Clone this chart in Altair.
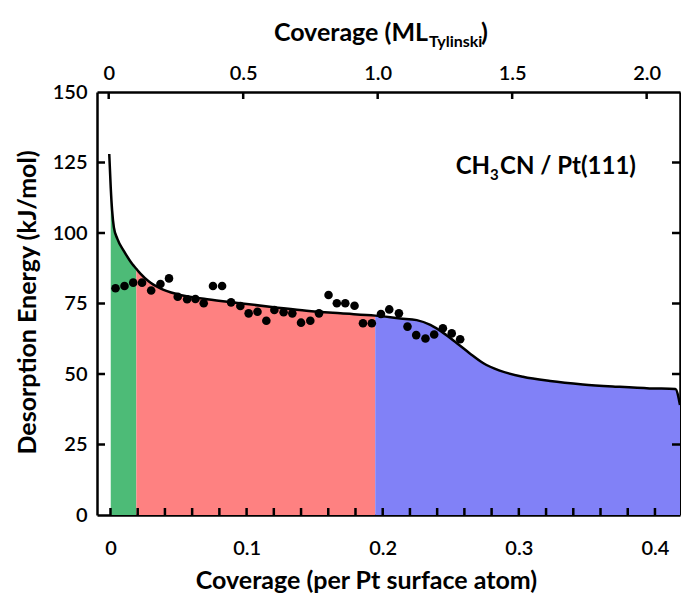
import altair as alt
import pandas as pd

# Desorption-energy curve: coverage (per Pt surface atom) vs energy (kJ/mol)
curve_x = [-0.0009, 0.0002, 0.0012, 0.0025, 0.005, 0.01, 0.016, 0.019, 0.022, 0.028,
           0.037, 0.049, 0.071, 0.095, 0.12, 0.144, 0.169, 0.1945, 0.213, 0.225,
           0.235, 0.245, 0.2545, 0.264, 0.274, 0.286, 0.303, 0.323, 0.347, 0.372,
           0.396, 0.415, 0.4184]
curve_e = [128, 116, 108, 102, 98, 93.5, 89, 87.3, 85.6, 82.9,
           80.3, 78.3, 76.5, 75.1, 73.7, 72.4, 71.5, 70.7, 69.7, 69.1,
           67.4, 64.4, 60.9, 57.3, 53.8, 51.2, 49.0, 47.5, 46.3, 45.5,
           44.9, 44.7, 39]

# Measured desorption energies
dot_x = [0.0037, 0.0103, 0.0167, 0.0232, 0.0299, 0.0367, 0.043, 0.0494, 0.0563, 0.0624,
         0.0685, 0.0753, 0.082, 0.0886, 0.0954, 0.1015, 0.108, 0.1145, 0.1204, 0.1272,
         0.1336, 0.14, 0.1468, 0.1532, 0.1602, 0.1663, 0.1725, 0.1793, 0.1855, 0.192,
         0.1987, 0.2048, 0.2119, 0.2182, 0.2246, 0.2314, 0.2378, 0.2442, 0.2507, 0.2569]
dot_e = [80.4, 81.2, 82.4, 82.4, 79.6, 81.9, 83.9, 77.4, 76.5, 76.6,
         75.1, 81.2, 81.2, 75.4, 74.1, 71.5, 72.1, 68.9, 72.7, 71.9,
         71.5, 68.2, 68.9, 71.5, 78.0, 75.1, 75.1, 74.2, 68.0, 68.0,
         71.3, 72.9, 71.5, 66.8, 63.8, 62.6, 64.0, 66.2, 64.4, 62.3]

# Coverage regions under the curve
region_edges = [0.0, 0.019, 0.1945, 0.4184]
region_names = ["a", "b", "c"]
region_colors = ["#4dbb77", "#fe8181", "#8181f7"]

bottom_ticks = [0.0, 0.02, 0.04, 0.06, 0.08, 0.10, 0.12, 0.14, 0.16, 0.18, 0.20,
                0.22, 0.24, 0.26, 0.28, 0.30, 0.32, 0.34, 0.36, 0.38, 0.40]
bottom_labels = [0.0, 0.1, 0.2, 0.3, 0.4]
top_ticks = [0.0, 0.5, 1.0, 1.5, 2.0]
energy_ticks = [0, 25, 50, 75, 100, 125, 150]
inner_energy_ticks = [25, 50, 75, 100, 125]

cov_domain = [-0.0099, 0.4184]
e_domain = [0, 150]
ml_per_cov = 1 / 0.1976
ml_shift = 0.0013
ml_domain = [(v + ml_shift) * ml_per_cov for v in cov_domain]

W, H = 583, 423
FONT = "Lato"
INK = "#000000"
TITLE_SIZE = 25
LABEL_SIZE = 20
TICK_W = 2.5

# tick lengths expressed in axis units
tick_e = 7 / H * (e_domain[1] - e_domain[0])
tick_cov = 8 / W * (cov_domain[1] - cov_domain[0])

curve = pd.DataFrame({"cov": curve_x, "e": curve_e})
parts = []
for name, lo, hi in zip(region_names, region_edges[:-1], region_edges[1:]):
    seg = curve[(curve["cov"] >= lo) & (curve["cov"] <= hi)].copy()
    seg["region"] = name
    parts.append(seg)
areas_df = pd.concat(parts, ignore_index=True)
dots = pd.DataFrame({"cov": dot_x, "e": dot_e})

# tick segments: each row holds both ends of one inward tick
bottom_df = pd.DataFrame({"cov": bottom_ticks, "e": e_domain[0], "e2": e_domain[0] + tick_e})
left_df = pd.DataFrame({"e": inner_energy_ticks, "cov": cov_domain[0],
                        "cov2": cov_domain[0] + tick_cov})
right_df = pd.DataFrame({"e": inner_energy_ticks, "cov": cov_domain[1],
                         "cov2": cov_domain[1] - tick_cov})
top_df = pd.DataFrame({"ml": top_ticks, "e": e_domain[1], "e2": e_domain[1] - tick_e})

x_scale = alt.Scale(domain=cov_domain, nice=False, zero=False)
y_scale = alt.Scale(domain=e_domain, nice=False)
ml_scale = alt.Scale(domain=ml_domain, nice=False, zero=False)

num_expr = "datum.value == 0 ? '0' : format(datum.value, '.1f')"

x_axis = alt.Axis(
    orient="bottom", values=bottom_labels, labelExpr=num_expr, ticks=False, tickSize=0,
    grid=False, labelFontSize=LABEL_SIZE, labelFont=FONT, labelFontWeight=600,
    labelColor=INK, labelBaseline="middle", labelPadding=33, domainColor=INK,
    domainWidth=2.5,
    title="Coverage (per Pt surface atom)", titleFont=FONT, titleFontSize=TITLE_SIZE,
    titleFontWeight="bold", titleColor=INK, titleX=269, titleY=73,
    titleBaseline="alphabetic", titleAlign="center",
)
y_axis = alt.Axis(
    orient="left", values=energy_ticks, format="d", ticks=False, tickSize=0, grid=False,
    labelFontSize=LABEL_SIZE, labelFont=FONT, labelFontWeight=600, labelColor=INK,
    labelPadding=10, domainColor=INK, domainWidth=2.5,
    title="Desorption Energy (kJ/mol)", titleFont=FONT, titleFontSize=TITLE_SIZE,
    titleFontWeight="bold", titleColor=INK, titleX=-70, titleY=210,
    titleAngle=270, titleBaseline="middle", titleAlign="center",
)

areas = alt.Chart(areas_df).mark_area(interpolate="monotone").encode(
    x=alt.X("cov:Q", scale=x_scale, axis=x_axis),
    y=alt.Y("e:Q", scale=y_scale, axis=y_axis, stack=None),
    color=alt.Color("region:N", scale=alt.Scale(domain=region_names, range=region_colors),
                    legend=None),
    detail="region:N",
)

line = alt.Chart(curve).mark_line(interpolate="monotone", color=INK, strokeWidth=2.5).encode(
    x=alt.X("cov:Q", scale=x_scale),
    y=alt.Y("e:Q", scale=y_scale),
)

points = alt.Chart(dots).mark_circle(size=74, color="#000000", opacity=1).encode(
    x=alt.X("cov:Q", scale=x_scale),
    y=alt.Y("e:Q", scale=y_scale),
)

bottom_tick_marks = alt.Chart(bottom_df).mark_rule(color=INK, strokeWidth=TICK_W).encode(
    x=alt.X("cov:Q", scale=x_scale),
    y=alt.Y("e:Q", scale=y_scale),
    y2="e2:Q",
)
left_tick_marks = alt.Chart(left_df).mark_rule(color=INK, strokeWidth=TICK_W).encode(
    y=alt.Y("e:Q", scale=y_scale),
    x=alt.X("cov:Q", scale=x_scale),
    x2="cov2:Q",
)
right_tick_marks = alt.Chart(right_df).mark_rule(color=INK, strokeWidth=TICK_W).encode(
    y=alt.Y("e:Q", scale=y_scale),
    x=alt.X("cov:Q", scale=x_scale),
    x2="cov2:Q",
)


def label(txt, x, y, size, align="left"):
    return alt.Chart(pd.DataFrame({"t": [txt]})).mark_text(
        font=FONT, fontSize=size, fontWeight="bold", color=INK, align=align,
        baseline="alphabetic").encode(x=alt.value(x), y=alt.value(y), text="t:N")


annotations = [
    label("CH", 393, 82, 24, "right"),
    label("3", 393, 88, 15),
    label("CN / Pt(111)", 403, 82, 24),
    label("Coverage (ML", 331, -51, TITLE_SIZE, "right"),
    label("Tylinski", 332, -45, 16),
    label(")", 384, -51, TITLE_SIZE),
]

main = alt.layer(areas, line, points, bottom_tick_marks, left_tick_marks,
                 right_tick_marks, *annotations)

top_axis = alt.Axis(
    orient="top", values=top_ticks, labelExpr=num_expr, ticks=False, tickSize=0, grid=False,
    labelFontSize=LABEL_SIZE, labelFont=FONT, labelFontWeight=600, labelColor=INK,
    labelBaseline="middle", labelPadding=19, domainColor=INK, domainWidth=2.5, title=None,
)
right_axis = alt.Axis(orient="right", labels=False, ticks=False, tickSize=0, grid=False,
                      domainColor=INK, domainWidth=2.5, title=None)

top_tick_marks = alt.Chart(top_df).mark_rule(color=INK, strokeWidth=TICK_W).encode(
    x=alt.X("ml:Q", scale=ml_scale, axis=top_axis),
    y=alt.Y("e:Q", scale=y_scale, axis=right_axis),
    y2="e2:Q",
)

chart = alt.layer(main, top_tick_marks).resolve_scale(
    x="independent", y="independent"
).properties(
    width=W, height=H,
    autosize=alt.AutoSizeParams(type="none"),
    padding={"left": 97, "top": 92, "right": 1, "bottom": 82},
    background="white",
).configure_view(stroke=None)

chart.save("out.html", embed_options={"renderer": "svg", "actions": False})
